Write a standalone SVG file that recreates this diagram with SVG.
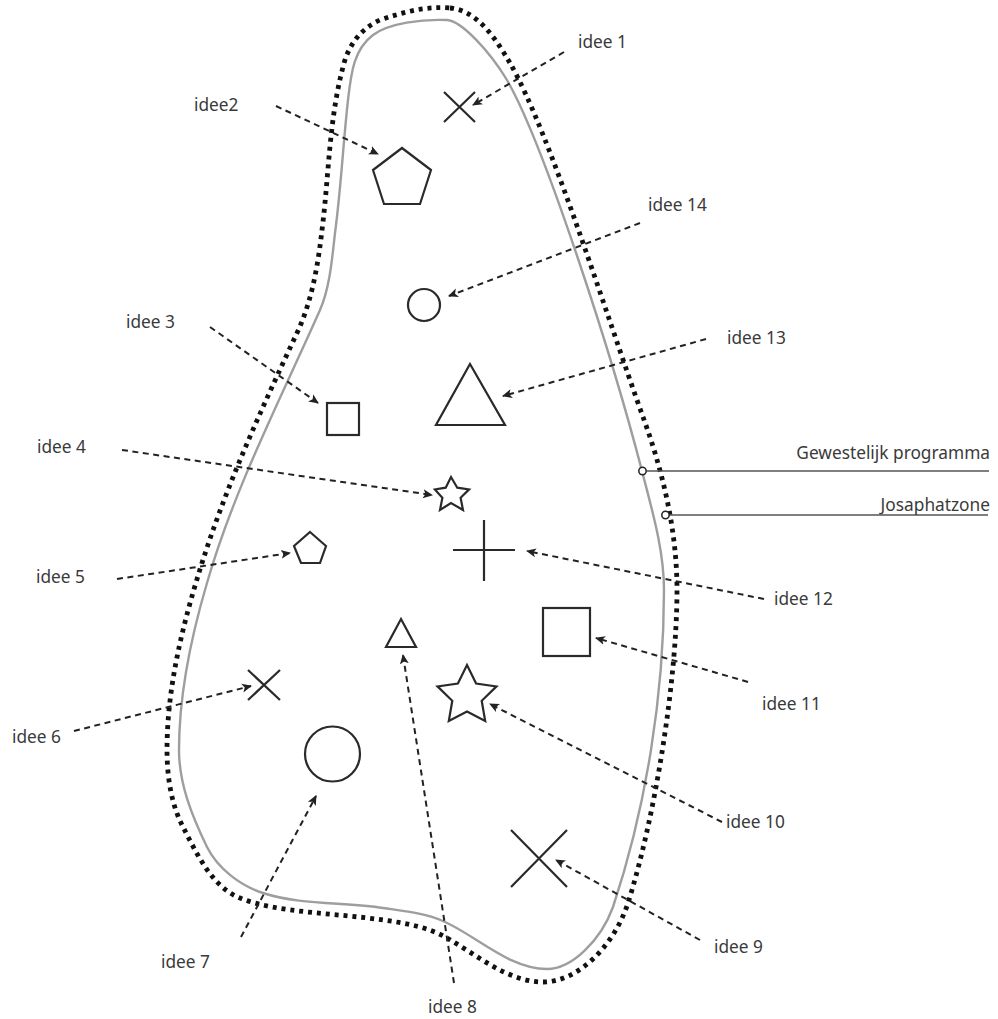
<svg xmlns="http://www.w3.org/2000/svg" width="998" height="1019" viewBox="0 0 998 1019">
<style>
text{font-family:"Noto Sans","Open Sans","Liberation Sans",sans-serif;font-size:17.300px;fill:#3a3a3a}
.s{fill:none;stroke:#2a2a2a;stroke-width:2.200;stroke-linejoin:miter}
.c{fill:none;stroke:#222;stroke-width:2;stroke-dasharray:6 4.500;marker-end:url(#a)}
</style>
<defs>
<marker id="a" viewBox="0 0 10 10" refX="9" refY="5" markerWidth="5" markerHeight="5" orient="auto" markerUnits="strokeWidth">
<path d="M10 5L0 0.500L2.500 5L0 9.500Z" fill="#222"/>
</marker>
</defs>
<rect width="998" height="1019" fill="#fff"/>
<g id="zones">
<path id="gewestelijk-programma" fill="none" stroke="#9e9e9e" stroke-width="2.400" d="M447 20C462 21 490 52 507 80C545 146 613 359 642 471C652 510 664 550 664 590C664 695 646 808 613 907C601 940 572 969 547 969C509 969 477 936 443 921C425 913 403 911 383 908C344 902 299 905 263 893C241 886 218 869 207 847C192 816 179 784 179 750C179 694 191 637 207 583C234 489 281 398 320 310C330 287 332 259 335 233C341 188 343 145 348 100C351 75 353 50 373 35C389 23 422 19 447 20Z"/>
<path id="josaphatzone" fill="none" stroke="#111" stroke-width="4.800" stroke-dasharray="4 4.900" d="M450 8C477 10 496 39 510 63C550 133 606 314 643 417C663 472 677 531 677 590C677 680 655 818 628 903C614 946 578 982 543 982C508 982 477 955 447 938C428 927 405 923 383 920C336 913 277 913 240 898C212 887 197 854 183 827C171 804 167 776 167 750C167 687 183 623 202 563C227 484 262 408 297 333C312 301 318 265 322 230C329 175 329 120 343 67C348 46 360 29 380 20C404 12 425 6 450 8Z"/>
</g>
<g id="connectors">
<path class="c" d="M564 52L473 105"/>
<path class="c" d="M276 106L378 154"/>
<path class="c" d="M640 223L449 296"/>
<path class="c" d="M706 339L503 396"/>
<path class="c" d="M210 327L318 403"/>
<path class="c" d="M122 450L432 495"/>
<path class="c" d="M117 579L290 553"/>
<path class="c" d="M764 599L527 551"/>
<path class="c" d="M748 682L596 638"/>
<path class="c" d="M722 822L490 704"/>
<path class="c" d="M700 940L556 860"/>
<path class="c" d="M454 983L403 655"/>
<path class="c" d="M241 937L316 796"/>
<path class="c" d="M74 731L251 686"/>
<path d="M647 471H989M669 515H988" fill="none" stroke="#555" stroke-width="1.500"/>
<circle cx="642.500" cy="471" r="3.700" fill="#fff" stroke="#222" stroke-width="1.500"/>
<circle cx="665.500" cy="515" r="3.700" fill="#fff" stroke="#222" stroke-width="1.500"/>
</g>
<g id="idee-1"><path class="s" d="M444 92L475 122M475 92L444 122"/><text x="578" y="48">idee 1</text></g>
<g id="idee-2"><polygon class="s" points="402,148 431,170 420,204 384,204 373,170"/><text x="194" y="111">idee2</text></g>
<g id="idee-3"><rect class="s" x="327" y="403" width="32" height="32"/><text x="126" y="328">idee 3</text></g>
<g id="idee-4"><polygon class="s" points="451,477 457.300,487.700 469.100,489.400 460.600,497.800 463,510 451,503 440,510 442.400,497.800 434.900,489.400 445.700,487.700"/><text x="37" y="453">idee 4</text></g>
<g id="idee-5"><polygon class="s" points="310,532 326,546 320,563 301,563 294,546"/><text x="36" y="583">idee 5</text></g>
<g id="idee-6"><path class="s" d="M248 670L280 700M280 670L248 700"/><text x="12" y="743">idee 6</text></g>
<g id="idee-7"><circle class="s" cx="332.500" cy="754" r="27.500"/><text x="161" y="968">idee 7</text></g>
<g id="idee-8"><polygon class="s" points="401,619 416,647 386,647"/><text x="428" y="1013">idee 8</text></g>
<g id="idee-9"><path class="s" d="M511 830L567 887M567 830L511 887"/><text x="714" y="953">idee 9</text></g>
<g id="idee-10"><polygon class="s" points="467,665 476.100,683.500 496.500,686.400 481.700,700.800 485.200,721 467,711.500 448.800,721 452.300,700.800 437.500,686.400 457.900,683.500"/><text x="726" y="828">idee 10</text></g>
<g id="idee-11"><rect class="s" x="543" y="608" width="47" height="48"/><text x="762" y="710">idee 11</text></g>
<g id="idee-12"><path class="s" d="M453 550H515M484 520V581"/><text x="774" y="605">idee 12</text></g>
<g id="idee-13"><polygon class="s" points="470,364 505,425 436,425"/><text x="727" y="344">idee 13</text></g>
<g id="idee-14"><circle class="s" cx="424" cy="305" r="16"/><text x="648" y="211">idee 14</text></g>
<g id="labels"><text x="990" y="459" text-anchor="end">Gewestelijk programma</text><text x="990" y="511" text-anchor="end">Josaphatzone</text></g>
</svg>
